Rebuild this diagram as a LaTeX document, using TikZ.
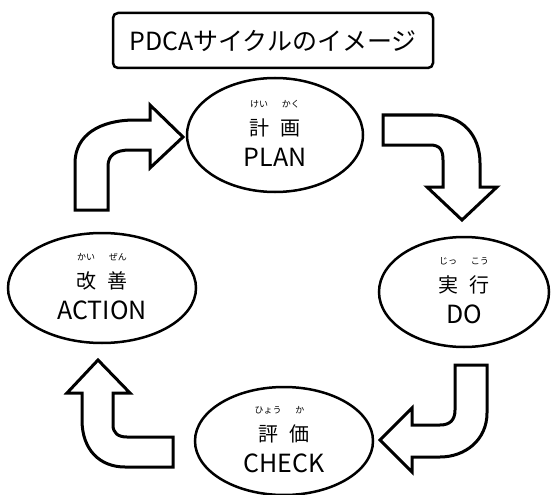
\documentclass[tikz,border=0pt]{standalone}
\usepackage{fontspec}
\newfontfamily\jpfont{Noto Sans CJK JP}
\usetikzlibrary{positioning,shapes.geometric}
\tikzset{
stage/.style={ellipse,draw,line width=2.5pt,inner sep=0pt},
ruby/.style={font=\jpfont\fontsize{9}{9}\selectfont,inner sep=0pt},
kanji/.style={font=\jpfont\fontsize{20}{20}\selectfont,inner sep=0pt},
latin/.style={font=\jpfont\fontsize{25}{25}\selectfont,inner sep=0pt},
titlebox/.style={draw,line width=2.5pt,rounded corners=5pt,minimum width=320pt,minimum height=55pt,font=\jpfont\fontsize{25}{25}\selectfont},
blockarrow/.style={draw,line width=3pt,fill=white,line join=miter},
}
\newcommand{\pair}[2]{\makebox[32pt]{#1}\makebox[32pt]{#2}}

\begin{document}
\begin{tikzpicture}[x=1pt,y=-1pt]
	\useasboundingbox (0,0) rectangle (552,495);
	\node[titlebox] (title) at (273,40.5) {PDCAサイクルのイメージ};

	\node[stage,minimum width=176pt,minimum height=114pt] (plan) at (275,135) {};
	\node[ruby] (planr) at ([yshift=31pt]plan.center) {\pair{けい}{かく}};
	\node[kanji] (plank) at ([yshift=7pt]plan.center) {\pair{計}{画}};
	\node[latin] (planl) at ([yshift=-22pt]plan.center) {PLAN};

	\node[stage,minimum width=170pt,minimum height=110pt] (do) at (464,292) {};
	\node[ruby] (dor) at ([yshift=31pt]do.center) {\pair{じっ}{こう}};
	\node[kanji] (dok) at ([yshift=7pt]do.center) {\pair{実}{行}};
	\node[latin] (dol) at ([yshift=-22pt]do.center) {DO};

	\node[stage,minimum width=178pt,minimum height=108pt] (check) at (284,441) {};
	\node[ruby] (checkr) at ([yshift=31pt]check.center) {\pair{ひょう}{か}};
	\node[kanji] (checkk) at ([yshift=7pt]check.center) {\pair{評}{価}};
	\node[latin] (checkl) at ([yshift=-22pt]check.center) {CHECK};

	\node[stage,minimum width=188pt,minimum height=110pt] (action) at (102,288) {};
	\node[ruby] (actionr) at ([yshift=31pt]action.center) {\pair{かい}{ぜん}};
	\node[kanji] (actionk) at ([yshift=7pt]action.center) {\pair{改}{善}};
	\node[latin] (actionl) at ([yshift=-22pt]action.center) {ACTION};

	% bent block arrows
	\draw[blockarrow] (383,115) -- (433,115) .. controls (462,115) and (480,135) .. (480,163) -- (480,187) -- (497,187) -- (462,220) -- (427,187) -- (443,187) -- (443,160) .. controls (443,150) and (440,145) .. (430,145) -- (383,145) -- cycle;
	\draw[blockarrow] (455,365) -- (487,365) -- (487,413) .. controls (487,440) and (465,457) .. (440,457) -- (412,457) -- (412,472) -- (380,440) -- (412,408) -- (412,425) -- (440,425) .. controls (450,425) and (455,420) .. (455,410) -- cycle;
	\draw[blockarrow] (173,437) -- (173,467) -- (125,467) .. controls (100,467) and (82,450) .. (82,420) -- (82,393) -- (67,393) -- (98,360) -- (130,393) -- (113,393) -- (113,425) .. controls (113,433) and (118,437) .. (127,437) -- cycle;
	\draw[blockarrow] (75,210) -- (75,163) .. controls (75,135) and (100,120) .. (135,120) -- (150,120) -- (150,105) -- (183,137) -- (150,168) -- (150,150) -- (130,150) .. controls (116,150) and (108,155) .. (108,166) -- (108,210) -- cycle;
\end{tikzpicture}
\end{document}
